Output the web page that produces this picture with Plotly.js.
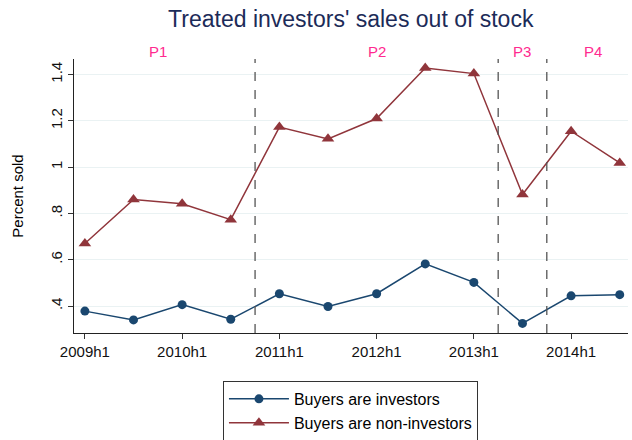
<!DOCTYPE html>
<html>
<head>
<meta charset="utf-8">
<script src="https://cdn.plot.ly/plotly-3.0.1.min.js"></script>
<style>html,body{margin:0;padding:0;background:#fff;}#chart{width:632px;height:440px;}</style>
</head>
<body>
<div id="chart"></div>
<script>
// Half-year periods 2009h1 .. 2014h2
const periods = [0,1,2,3,4,5,6,7,8,9,10,11];
const tickVals = [0,2,4,6,8,10];
const tickLabels = ["2009h1","2010h1","2011h1","2012h1","2013h1","2014h1"];
const buyersInvestors = [0.378,0.340,0.406,0.343,0.453,0.398,0.453,0.582,0.502,0.325,0.444,0.449];
const buyersNonInvestors = [0.670,0.860,0.842,0.773,1.173,1.122,1.210,1.428,1.404,0.882,1.155,1.018];
const breakPoints = [3.5,8.5,9.5];
const periodLabels = ["P1","P2","P3","P4"];
const periodLabelX = [1.5,6,9,10.45];

const font = "Liberation Sans, Arial, sans-serif";
const navy = "#1a476f", maroon = "#90353b";

const traces = [
  {x: periods, y: buyersInvestors, name: "Buyers are investors", mode: "lines+markers",
   line: {color: navy, width: 1.5}, marker: {symbol: "circle", size: 9, color: navy}},
  {x: periods, y: buyersNonInvestors, name: "Buyers are non-investors", mode: "lines+markers",
   line: {color: maroon, width: 1.5}, marker: {symbol: "triangle-up", size: 11, color: maroon}}
];

const shapes = breakPoints.map(b => ({
  type: "line", xref: "x", yref: "paper", x0: b, x1: b, y0: 0, y1: 1,
  line: {color: "#555555", width: 1.3, dash: "dash"}
}));

const annotations = periodLabels.map((t, i) => ({
  text: t, x: periodLabelX[i], xref: "x", y: 1.0, yref: "paper", yanchor: "bottom",
  yshift: -3, showarrow: false, font: {family: font, size: 15, color: "#ff2a8f"}
}));

const layout = {
  width: 632, height: 440,
  paper_bgcolor: "#ffffff", plot_bgcolor: "#ffffff",
  margin: {l: 74, r: 4, t: 59, b: 107, autoexpand: false},
  title: {text: "Treated investors' sales out of stock", x: 0.555, xref: "container", xanchor: "center",
          y: 0.958, yanchor: "middle",
          font: {family: font, size: 23, color: "#1c2b58"}},
  font: {family: font, size: 14, color: "#000"},
  xaxis: {range: [-0.224, 11.17], tickmode: "array", tickvals: tickVals, ticktext: tickLabels, tickangle: 0,
          ticks: "outside", ticklen: 5, tickcolor: "#333", showgrid: false, zeroline: false,
          showline: true, linecolor: "#222", linewidth: 1.2, automargin: false,
          tickfont: {family: font, size: 15, color: "#111"}},
  yaxis: {range: [0.2835, 1.467], tickmode: "array", tickvals: [0.4,0.6,0.8,1,1.2,1.4],
          ticktext: [".4",".6",".8","1","1.2","1.4"], tickangle: -90,
          ticks: "outside", ticklen: 5, tickcolor: "#333", showgrid: true, gridcolor: "#eaf2f3", gridwidth: 1,
          zeroline: false, showline: true, linecolor: "#222", linewidth: 1.2, automargin: false,
          tickfont: {family: font, size: 15, color: "#111"},
          title: {text: "Percent sold", font: {family: font, size: 15, color: "#000"}, standoff: 20}},
  showlegend: true,
  legend: {x: 0.499, xref: "paper", xanchor: "center", y: -0.394, yref: "paper", yanchor: "bottom",
           orientation: "v", itemwidth: 60,
           bordercolor: "#333", borderwidth: 1, bgcolor: "#fff",
           font: {family: font, size: 16, color: "#000"}, tracegroupgap: 0},
  shapes: shapes,
  annotations: annotations
};

Plotly.newPlot("chart", traces, layout, {displayModeBar: false, staticPlot: true});
</script>
</body>
</html>
